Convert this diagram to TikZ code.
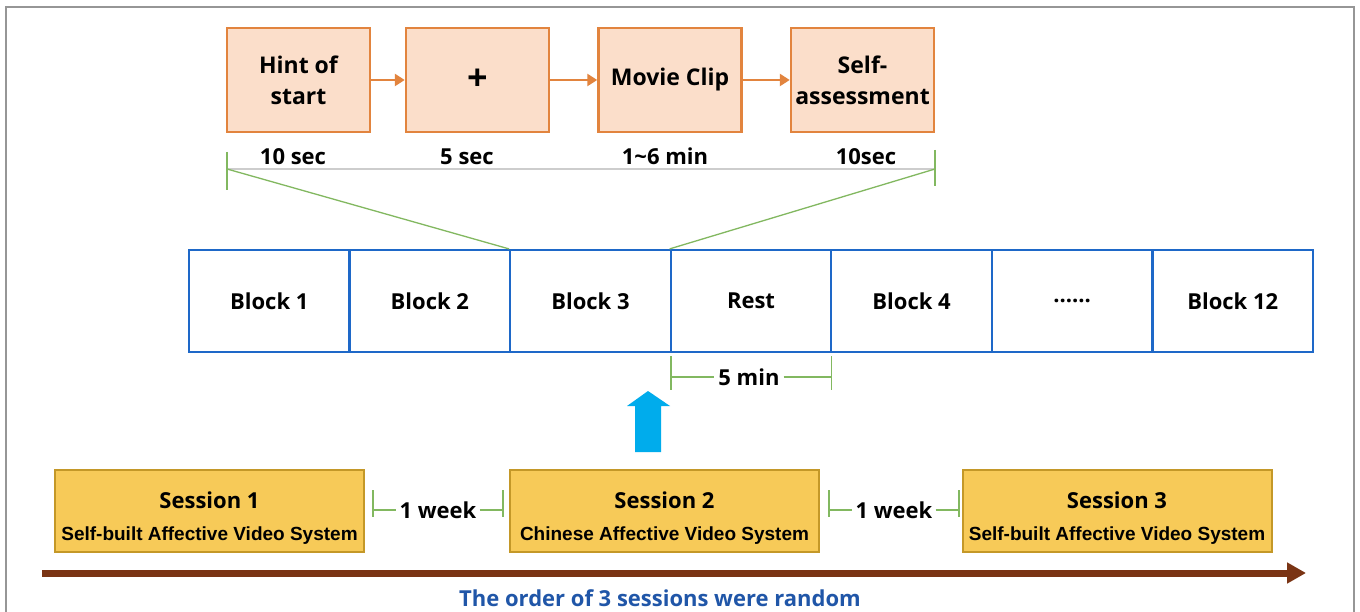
\documentclass[tikz,border=0pt]{standalone}
\usepackage{fontspec}
\setmainfont{Open Sans}
\newfontfamily\arialbold{Liberation Sans}
\usetikzlibrary{arrows.meta}

\definecolor{framegray}{RGB}{150,150,150}
\definecolor{stagefill}{RGB}{251,222,202}
\definecolor{stageedge}{RGB}{226,132,62}
\definecolor{blockblue}{RGB}{30,104,200}
\definecolor{tickgreen}{RGB}{130,184,96}
\definecolor{spangray}{RGB}{205,205,205}
\definecolor{sessfill}{RGB}{247,202,88}
\definecolor{sessedge}{RGB}{196,152,40}
\definecolor{upblue}{RGB}{0,172,236}
\definecolor{timebrown}{RGB}{122,52,20}
\definecolor{notetext}{RGB}{32,86,168}

\tikzset{
  stagebox/.style={draw=stageedge, fill=stagefill, line width=2.5pt,
    minimum width=143pt, minimum height=104pt, inner sep=0pt, align=center,
    font=\bfseries\fontsize{23}{31}\selectfont},
  flowarrow/.style={draw=stageedge, line width=2.5pt,
    -{Triangle[length=10pt,width=12pt]}},
  blockcell/.style={draw=blockblue, line width=2.2pt, minimum width=160.57pt,
    minimum height=102pt, inner sep=0pt, font=\bfseries\fontsize{22}{26}\selectfont},
  sessbox/.style={draw=sessedge, fill=sessfill, line width=2pt,
    minimum width=309pt, minimum height=82pt, inner sep=0pt},
  sesstitle/.style={anchor=base, inner sep=0pt, font=\bfseries\fontsize{22}{26}\selectfont},
  sesssub/.style={anchor=base, inner sep=0pt, font=\arialbold\bfseries\fontsize{19}{22}\selectfont},
  durlabel/.style={anchor=base, inner sep=0pt, font=\bfseries\fontsize{22}{26}\selectfont},
  gapline/.style={draw=tickgreen, line width=1.6pt},
  zoomline/.style={draw=tickgreen, line width=1.3pt},
}

\begin{document}
\begin{tikzpicture}[x=1pt,y=-1pt]
\useasboundingbox (0,0) rectangle (1360,612);
\fill[white] (0,0) rectangle (1360,612);
% outer frame
\draw[framegray, line width=1.5pt] (6,660) -- (6,7) -- (1354,7) -- (1354,660);

% trial structure
\node[stagebox] (hint) at (298.5,80) {Hint of\\start};
\node[stagebox, font=\bfseries\fontsize{36}{36}\selectfont] (fix) at (477.5,80) {+};
\node[stagebox] (clip) at (670,80)   {Movie Clip};
\node[stagebox] (self) at (862.5,80) {Self-\\assessment};
\draw[flowarrow] (hint) -- (fix);
\draw[flowarrow] (fix) -- (clip);
\draw[flowarrow] (clip) -- (self);

\node[durlabel] (d1) at (293,165) {10 sec};
\node[durlabel] (d2) at (467,165) {5 sec};
\node[durlabel] (d3) at (665,165) {1\textasciitilde6 min};
\node[durlabel] (d4) at (866,165) {10sec};

% span of one block
\coordinate (spanL) at (227,169);
\coordinate (spanR) at (935,169);
\draw[spangray, line width=1.2pt] (spanL) -- (spanR);
\draw[zoomline] (227,152) -- (227,190);
\draw[zoomline] (935,150) -- (935,186);

% block sequence
\node[blockcell] (b1)   at (269.29,301)  {Block 1};
\node[blockcell] (b2)   at (429.86,301)  {Block 2};
\node[blockcell] (b3)   at (590.43,301)  {Block 3};
\node[blockcell] (rest) at (751.00,301)  {Rest};
\node[blockcell] (b4)   at (911.57,301)  {Block 4};
\node[blockcell] (dots) at (1072.14,301) {{......}};
\node[blockcell] (b12)  at (1232.71,301) {Block 12};

\draw[zoomline] (spanL) -- (b3.north west);
\draw[zoomline] (spanR) -- (rest.north west);

% rest duration
\node[durlabel, fill=white, inner xsep=4pt] (rmin) at (749,385) {5 min};
\draw[gapline] (670.7,356) -- (670.7,390);
\draw[gapline] (831.3,356) -- (831.3,390);
\draw[gapline] (670.7,377) -- (rmin.west |- 0,377);
\draw[gapline] (rmin.east |- 0,377) -- (831.3,377);

% pointer to the block sequence
\fill[upblue] (635,452) -- (635,406) -- (627,406) -- (648,391) -- (670,406)
  -- (661,406) -- (661,452) -- cycle;

% sessions
\node[sessbox] (s1) at (209.5,511) {};
\node[sessbox] (s2) at (664.5,511) {};
\node[sessbox] (s3) at (1117,511)  {};
\node[sesstitle] at (209.5,508) {Session 1};
\node[sesssub]   at (209.5,540) {Self-built Affective Video System};
\node[sesstitle] at (664.5,508) {Session 2};
\node[sesssub]   at (664.5,540) {Chinese Affective Video System};
\node[sesstitle] at (1117,508)  {Session 3};
\node[sesssub]   at (1117,540)  {Self-built Affective Video System};

% one-week gaps
\node[durlabel, inner xsep=3pt] (w1) at (438,518) {1 week};
\node[durlabel, inner xsep=3pt] (w2) at (894,518) {1 week};
\draw[gapline] (373,490) -- (373,517);
\draw[gapline] (503,490) -- (503,517);
\draw[gapline] (373,510) -- (w1.west |- 0,510);
\draw[gapline] (w1.east |- 0,510) -- (503,510);
\draw[gapline] (829,490) -- (829,517);
\draw[gapline] (959,490) -- (959,517);
\draw[gapline] (829,510) -- (w2.west |- 0,510);
\draw[gapline] (w2.east |- 0,510) -- (959,510);

% time axis
\coordinate (axisL) at (42,573);
\coordinate (axisR) at (1306,573);
\draw[timebrown, line width=7pt, -{Triangle[length=19pt,width=20pt]}] (axisL) -- (axisR);

\node[anchor=base, inner sep=0pt, text=notetext,
  font=\bfseries\fontsize{22}{26}\selectfont] (note) at (660,606)
  {The order of 3 sessions were random};
\end{tikzpicture}
\end{document}
